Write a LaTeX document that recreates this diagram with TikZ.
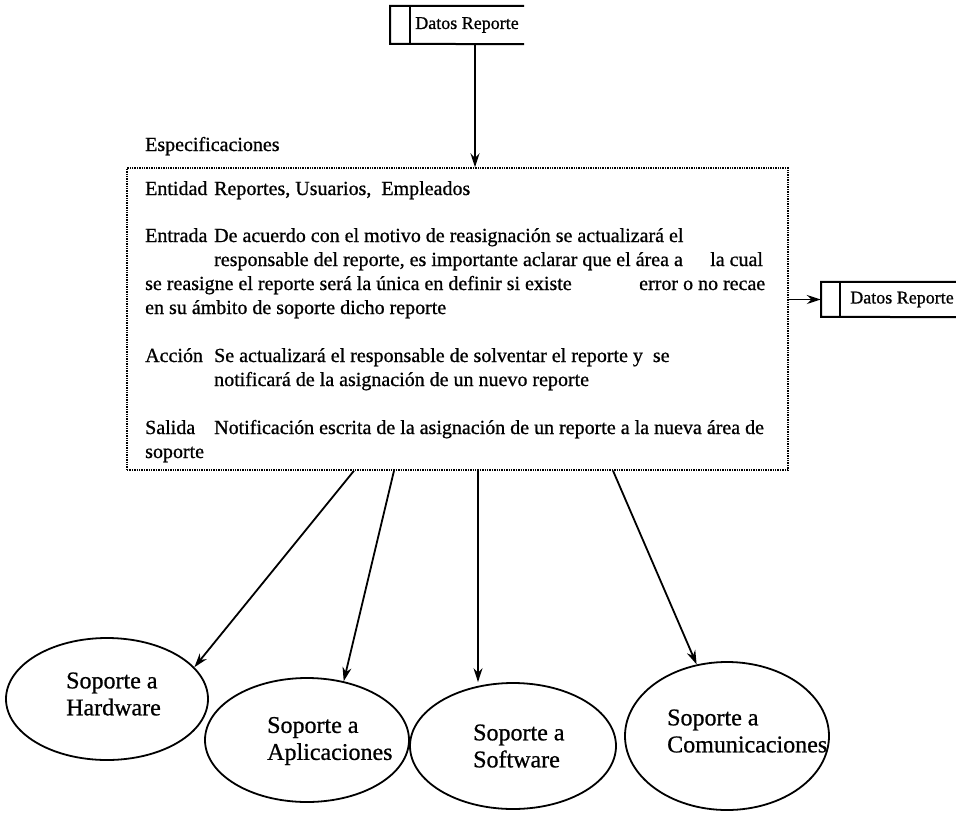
\documentclass[tikz,border=0pt]{standalone}
\usepackage{fontspec}
\setmainfont{Liberation Serif}[FakeBold=0.8]
\usetikzlibrary{shapes.geometric,arrows.meta}
\begin{document}
\begin{tikzpicture}[x=1pt,y=-1pt,
  body/.style={anchor=base west,inner sep=0pt,font=\fontsize{20}{24}\selectfont},
  storetext/.style={inner sep=0pt,font=\fontsize{18}{20}\selectfont},
  storeline/.style={line width=2pt},
  flow/.style={line width=1.8pt,-{Stealth[length=14pt,width=9pt]}},
  procbox/.style={draw,densely dotted,line width=1.4pt,minimum width=661pt,minimum height=302pt,inner sep=0pt},
  area/.style={draw,ellipse,line width=1.8pt,inner sep=0pt},
  arealabel/.style={anchor=west,inner sep=0pt,align=left,font=\fontsize{24}{27}\selectfont}
]
\useasboundingbox (0,0) rectangle (956,812);
\fill[white] (0,0) rectangle (956,812);

% incoming data store
\node[storetext,minimum width=114pt,minimum height=38pt] (dsA) at (467,25) {Datos Reporte};
\draw[storeline] (dsA.north east) -- ++(-134,0) -- ++(0,38) -- (dsA.south east);
\draw[storeline] (dsA.north west) -- (dsA.south west);

% process specification
\node[body] (esp) at (145,151) {Especificaciones};
\node[procbox] (spec) at (457.5,319) {};

\node[body] (l1) at (145,195) {Entidad};
\node[body] (v1) at (214,195) {Reportes, Usuarios,\ \ Empleados};
\node[body] (l2) at (145,242) {Entrada};
\node[body] (v2a) at (214,242) {De acuerdo con el motivo de reasignación se actualizará el};
\node[body] (v2b) at (214,266) {responsable del reporte, es importante aclarar que el área a};
\node[body] (v2c) at (710,266) {la cual};
\node[body] (v2d) at (145,290) {se reasigne el reporte será la única en definir si existe};
\node[body] (v2e) at (639,290) {error o no recae};
\node[body] (v2f) at (145,314) {en su ámbito de soporte dicho reporte};
\node[body] (l3) at (145,362) {Acción};
\node[body] (v3a) at (214,362) {Se actualizará el responsable de solventar el reporte y\ \ se};
\node[body] (v3b) at (214,386) {notificará de la asignación de un nuevo reporte};
\node[body] (l4) at (145,434) {Salida};
\node[body] (v4a) at (214,434) {Notificación escrita de la asignación de un reporte a la nueva área de};
\node[body] (v4b) at (145,458) {soporte};

% outgoing data store
\node[storetext,minimum width=124pt,minimum height=35pt] (dsB) at (902,299.5) {Datos Reporte};
\draw[storeline] (dsB.north east) -- ++(-143,0) -- ++(0,35) -- (dsB.south east);
\draw[storeline] (dsB.north west) -- (dsB.south west);

% support areas
\node[area,minimum width=202pt,minimum height=122pt] (hw) at (107,699) {};
\node[area,minimum width=204pt,minimum height=124pt] (ap) at (307,740) {};
\node[area,minimum width=206pt,minimum height=126pt] (sw) at (513,746) {};
\node[area,minimum width=204pt,minimum height=148pt] (cm) at (727,736) {};
\node[arealabel] (hwt) at (66,694) {Soporte a\\Hardware};
\node[arealabel] (apt) at (267,741) {Soporte a\\Aplicaciones};
\node[arealabel] (swt) at (473,746) {Soporte a\\Software};
\node[arealabel] (cmt) at (667,731) {Soporte a\\Comunicaciones};

% flows
\draw[flow] ([xshift=8pt]dsA.south) -- ([xshift=8pt]dsA.south |- spec.north);
\draw[flow] (spec.east |- dsB.west) -- ([xshift=-19pt]dsB.west);
\coordinate (o1) at ([xshift=-103.5pt]spec.south);
\coordinate (o2) at ([xshift=-63.5pt]spec.south);
\coordinate (o3) at ([xshift=20.5pt]spec.south);
\coordinate (o4) at ([xshift=155.5pt]spec.south);
\draw[flow] (o1) -- (hw.20);
\draw[flow] (o2) -- (ap.58);
\draw[flow] (o3) -- (o3 |- sw.north);
\draw[flow] (o4) -- (cm.113);
\end{tikzpicture}
\end{document}
